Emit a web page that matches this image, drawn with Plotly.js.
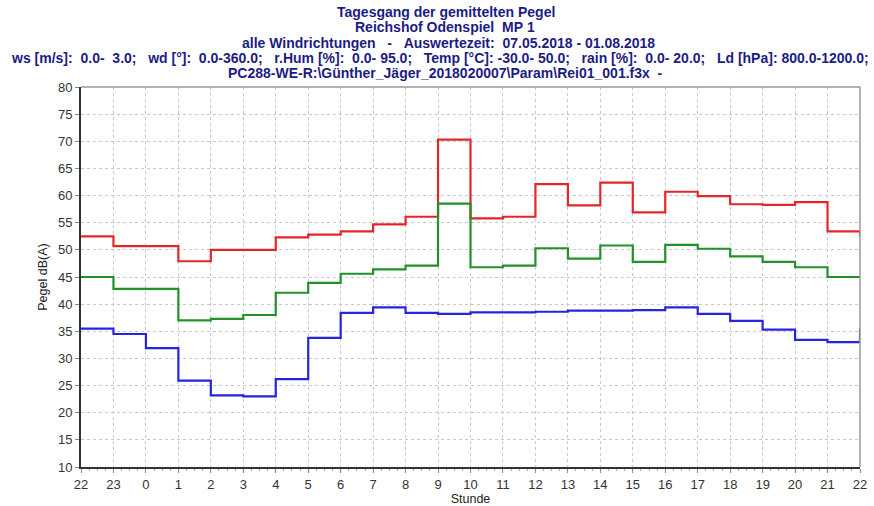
<!DOCTYPE html>
<html>
<head>
<meta charset="utf-8">
<script src="https://cdn.plot.ly/plotly-3.0.1.min.js"></script>
<style>
html,body{margin:0;padding:0;background:#fff;}
#chart{width:874px;height:506px;}
</style>
</head>
<body>
<div id="chart"></div>
<script>
// Hour labels (x axis), from 22 h through the day back to 22 h
const hourLabels = ["22","23","0","1","2","3","4","5","6","7","8","9","10","11","12","13","14","15","16","17","18","19","20","21","22"];
// Hourly level values (dB(A)), one per hour starting at 22 h; last repeats the first (wrap)
const redValues   = [52.5,50.7,50.7,47.9,50.0,50.0,52.3,52.8,53.4,54.7,56.1,70.3,55.8,56.1,62.1,58.2,62.4,56.9,60.7,59.9,58.4,58.3,58.8,53.4,52.5];
const greenValues = [45.0,42.8,42.8,37.0,37.3,38.0,42.1,43.9,45.6,46.4,47.1,58.5,46.8,47.1,50.3,48.4,50.8,47.8,50.9,50.2,48.8,47.8,46.8,45.0,45.0];
const blueValues  = [35.5,34.5,31.9,25.9,23.2,23.0,26.2,33.8,38.4,39.4,38.4,38.2,38.5,38.5,38.6,38.8,38.8,38.9,39.4,38.2,36.9,35.3,33.4,33.0,35.5];
const titleLines = [
  "Tagesgang der gemittelten Pegel",
  "Reichshof Odenspiel  MP 1",
  "alle Windrichtungen   -   Auswertezeit:  07.05.2018 - 01.08.2018",
  "ws [m/s]:  0.0-  3.0;   wd [°]:  0.0-360.0;   r.Hum [%]:  0.0- 95.0;   Temp [°C]: -30.0- 50.0;   rain [%]:  0.0- 20.0;   Ld [hPa]: 800.0-1200.0;",
  "PC288-WE-R:\\Günther_Jäger_2018020007\\Param\\Rei01_001.f3x  -"
];

const xs = hourLabels.map((_, i) => i);
const mk = (y, color) => ({
  x: xs, y: y, type: "scatter", mode: "lines",
  line: {shape: "hv", color: color, width: 2.2},
  hoverinfo: "skip", showlegend: false
});

const font = "'Liberation Sans', Arial, sans-serif";
const titleY = [12, 27, 42.5, 57.5, 72.5];
const titleX = [446, 445, 448, 440, 445];
const annotations = titleLines.map((t, i) => ({
  text: t.replace(/ /g, "\u00A0"),
  xref: "paper", yref: "paper",
  x: (titleX[i] - 81) / (860 - 81), xanchor: "center",
  y: 1 + (86.7 - titleY[i]) / (467 - 86.7), yanchor: "middle",
  showarrow: false,
  font: {family: font, size: 14, color: "#1c1c84", weight: "bold"}
}));

const layout = {
  width: 874, height: 506,
  margin: {l: 81, r: 14, t: 87, b: 39},
  paper_bgcolor: "#fff", plot_bgcolor: "#fff",
  font: {family: font, size: 12, color: "#333"},
  xaxis: {
    range: [0, 24],
    tickmode: "array", tickvals: xs, ticktext: hourLabels,
    showgrid: true, gridcolor: "#c8c8c8", griddash: "dot", gridwidth: 1,
    zeroline: false,
    showline: true, linecolor: "#333", linewidth: 2, mirror: false,
    ticks: "outside", ticklen: 4, tickcolor: "#888",
    minor: {dtick: 0.25, ticks: "outside", ticklen: 2, tickcolor: "#aaa", showgrid: false},
    tickfont: {size: 13, color: "#333"},
    title: {text: "Stunde", font: {size: 12.5, color: "#222"}, standoff: 2}
  },
  yaxis: {
    range: [10, 80], dtick: 5,
    showgrid: true, gridcolor: "#c8c8c8", griddash: "dot", gridwidth: 1,
    zeroline: false,
    showline: true, linecolor: "#333", linewidth: 2,
    ticks: "outside", ticklen: 4, tickcolor: "#888",
    tickfont: {size: 13, color: "#333"},
    title: {text: "Pegel dB(A)", font: {size: 12.5, color: "#222"}, standoff: 8}
  },
  shapes: [
    {type: "line", xref: "paper", yref: "paper", x0: 0, x1: 1, y0: 1, y1: 1, line: {color: "#999", width: 1.5}},
    {type: "line", xref: "paper", yref: "paper", x0: 1, x1: 1, y0: 0, y1: 1, line: {color: "#999", width: 1.5}}
  ],
  annotations: annotations
};

Plotly.newPlot("chart", [mk(redValues, "#e3262b"), mk(greenValues, "#23912a"), mk(blueValues, "#2525e0")], layout, {staticPlot: true});
</script>
</body>
</html>
